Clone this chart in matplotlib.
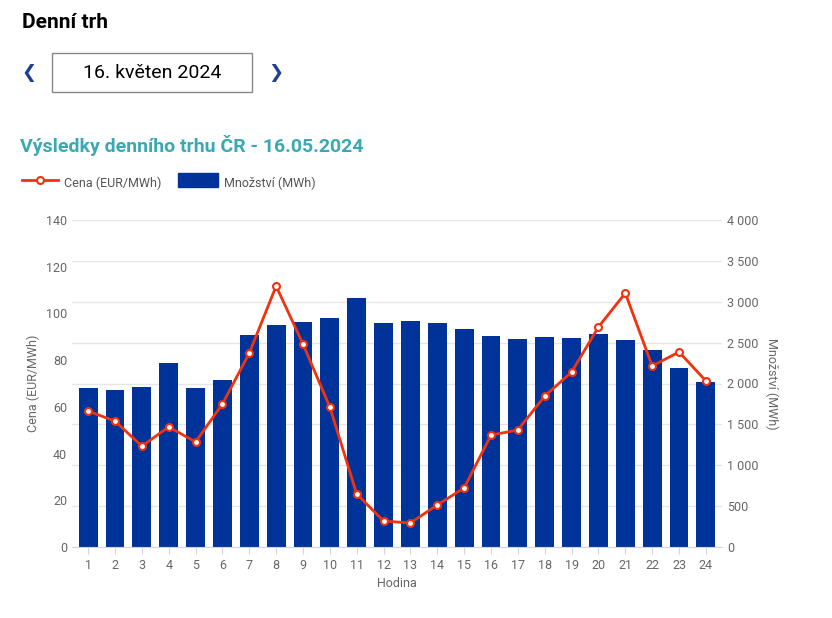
import matplotlib.pyplot as plt
from matplotlib.patches import Rectangle
from matplotlib.lines import Line2D
from matplotlib.ticker import FuncFormatter

plt.rcParams['font.family'] = ['Roboto', 'DejaVu Sans']

hours = list(range(1, 25))
price = [58.2, 53.9, 43.2, 51.4, 45.0, 61.2, 83.0, 111.7, 86.9, 59.9, 22.7, 11.1,
         10.3, 18.0, 25.3, 47.9, 50.1, 64.6, 74.9, 94.2, 108.7, 77.5, 83.5, 71.1]
volume = [1939, 1915, 1963, 2256, 1939, 2037, 2598, 2720, 2756, 2805, 3049, 2744,
          2768, 2744, 2671, 2585, 2549, 2573, 2561, 2610, 2537, 2415, 2195, 2024]

bar_color = '#003399'
line_color = '#f0320f'
grid_color = '#e6e6e6'
tick_color = '#666666'

fig = plt.figure(figsize=(8.32, 6.18), dpi=100)

# header
fig.text(22/832, 1 - 22/618, 'Denní trh', fontsize=15, fontweight='bold', va='center')
fig.add_artist(Rectangle((52/832, 1 - 92/618), 200/832, 39/618, transform=fig.transFigure,
                         fill=False, edgecolor='#888888', lw=1))
fig.text(152/832, 1 - 73/618, '16. květen 2024', fontsize=14, ha='center', va='center')
fig.text(29/832, 1 - 73/618, '❮', fontsize=13, ha='center', va='center', color='#1f3f8f',
         family=['DejaVu Sans'], fontweight='bold')
fig.text(276/832, 1 - 73/618, '❯', fontsize=13, ha='center', va='center', color='#1f3f8f',
         family=['DejaVu Sans'], fontweight='bold')
fig.text(20/832, 1 - 145/618, 'Výsledky denního trhu ČR - 16.05.2024', fontsize=14,
         fontweight='bold', color='#3aa9b4', va='center')

ax = fig.add_axes([72/832, 71/618, 650/832, 327/618])
ax2 = ax.twinx()
ax.set_zorder(ax2.get_zorder() + 1)
ax.patch.set_visible(False)

ax2.bar(hours, volume, width=0.7, color=bar_color, zorder=2)
ax2.set_ylim(0, 4000)
ax2.set_yticks(range(0, 4001, 500))
ax2.yaxis.set_major_formatter(FuncFormatter(lambda v, p: f'{int(v):,}'.replace(',', ' ')))
ax2.set_ylabel('Množství (MWh)', rotation=270, labelpad=14, color=tick_color, fontsize=9)

ax.plot(hours, price, color=line_color, lw=2, marker='o', markersize=5,
        markerfacecolor='white', markeredgecolor=line_color, markeredgewidth=1.5)
ax.set_ylim(0, 140)
ax.set_yticks(range(0, 141, 20))
ax.set_xlim(0.4, 24.6)
ax.set_xticks(hours)
ax.set_ylabel('Cena (EUR/MWh)', color=tick_color, fontsize=9)
ax.set_xlabel('Hodina', color=tick_color, fontsize=9)

for y in range(0, 4001, 500):
    ax2.axhline(y, color=grid_color, lw=1, zorder=0)

for a in (ax, ax2):
    for s in a.spines.values():
        s.set_visible(False)
    a.tick_params(length=0, labelsize=9, colors=tick_color)
ax.spines['bottom'].set_visible(True)
ax.spines['bottom'].set_color('#ccd6eb')
ax.tick_params(axis='x', length=5, color='#ccd6eb')

# legend
fig.add_artist(Line2D([22/832, 58/832], [1 - 180/618] * 2, transform=fig.transFigure,
                      color=line_color, lw=2))
fig.add_artist(Line2D([40/832], [1 - 180/618], transform=fig.transFigure, color=line_color,
                      marker='o', markersize=5, markerfacecolor='white', markeredgewidth=1.5))
fig.text(64/832, 1 - 183/618, 'Cena (EUR/MWh)', fontsize=9, color='#555555', va='center')
fig.add_artist(Rectangle((178/832, 1 - 187/618), 40/832, 14/618, transform=fig.transFigure,
                         color=bar_color))
fig.text(224/832, 1 - 183/618, 'Množství (MWh)', fontsize=9, color='#555555', va='center')

fig.savefig('out.png', dpi=100)
